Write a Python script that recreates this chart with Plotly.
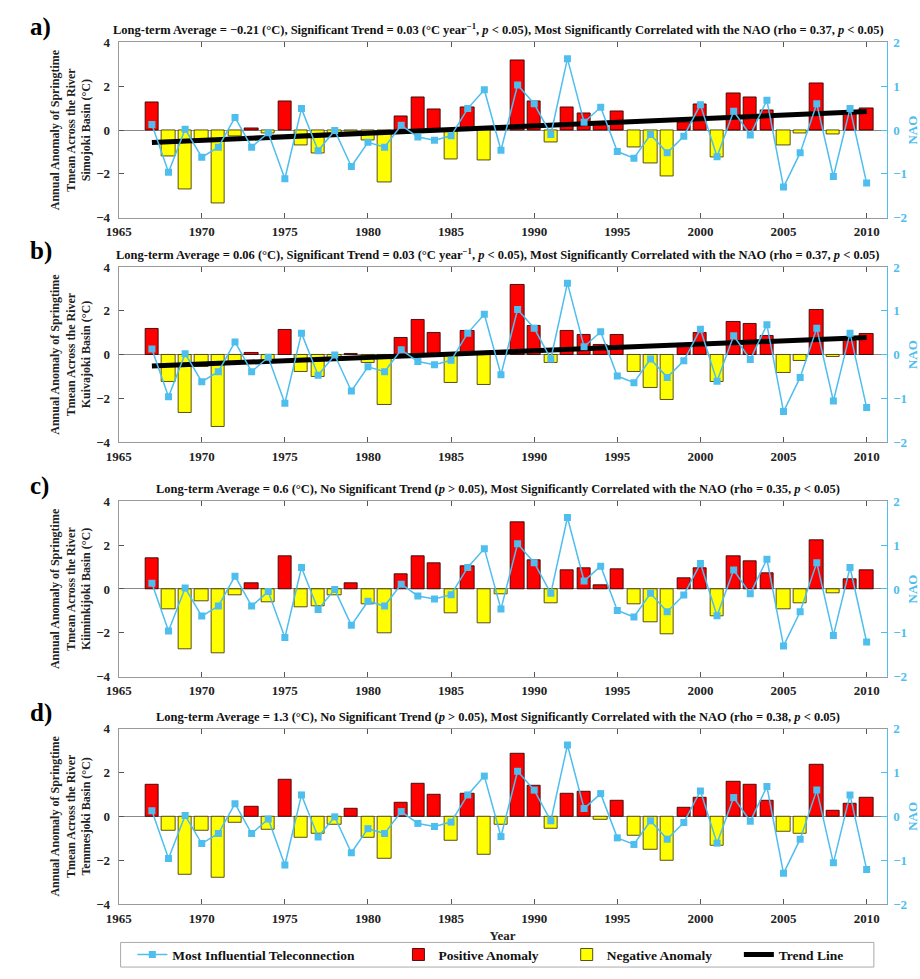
import plotly.graph_objects as go

years = list(range(1967, 2011))

nao = [0.13, -0.96, 0.02, -0.62, -0.39, 0.29, -0.39, -0.06, -1.11, 0.49,
       -0.47, -0.01, -0.83, -0.28, -0.39, 0.11, -0.16, -0.23, -0.13, 0.49,
       0.92, -0.46, 1.03, 0.60, -0.10, 1.63, 0.18, 0.52, -0.49, -0.64,
       -0.10, -0.52, -0.14, 0.58, -0.61, 0.43, -0.11, 0.68, -1.30, -0.52,
       0.60, -1.06, 0.49, -1.21]

anom_a = [1.24, -1.20, -2.70, -0.45, -3.34, -0.30, 0.08, -0.16, 1.29, -0.72,
          -1.08, -0.30, -0.07, -0.49, -2.40, 0.61, 1.47, 0.94, -1.32, 1.02,
          -1.38, 0.03, 3.19, 1.29, -0.55, 1.05, 0.78, 0.25, 0.87, -0.79,
          -1.54, -2.13, 0.37, 1.17, -1.24, 1.65, 1.47, 0.90, -0.72, -0.16,
          2.14, -0.19, 0.72, 0.99]

anom_b = [1.17, -1.26, -2.68, -0.55, -3.28, -0.43, 0.09, -0.28, 1.14, -0.81,
          -1.00, -0.25, 0.03, -0.37, -2.32, 0.75, 1.59, 1.00, -1.29, 1.09,
          -1.39, 0.02, 3.20, 1.33, -0.39, 1.08, 0.88, 0.42, 0.88, -0.78,
          -1.54, -2.07, 0.34, 1.00, -1.26, 1.48, 1.38, 0.84, -0.84, -0.30,
          2.02, -0.13, 0.61, 0.96]

anom_c = [1.39, -0.91, -2.74, -0.55, -2.92, -0.31, 0.27, -0.60, 1.51, -0.82,
          -0.81, -0.27, 0.25, -0.70, -2.04, 0.69, 1.48, 1.17, -1.12, 1.02,
          -1.57, -0.25, 3.06, 1.30, -0.66, 0.85, 0.94, 0.16, 0.90, -0.72,
          -1.53, -2.08, 0.49, 0.94, -1.23, 1.48, 1.26, 0.73, -0.93, -0.67,
          2.23, -0.18, 0.43, 0.85]

anom_d = [1.44, -0.67, -2.67, -0.64, -2.82, -0.31, 0.42, -0.63, 1.68, -0.97,
          -0.81, -0.39, 0.33, -0.97, -1.93, 0.63, 1.50, 0.97, -1.11, 1.05,
          -1.74, -0.40, 2.88, 1.42, -0.57, 1.03, 1.14, -0.15, 0.73, -0.87,
          -1.54, -2.02, 0.40, 0.87, -1.32, 1.56, 1.45, 0.73, -0.72, -0.81,
          2.34, 0.24, 0.58, 0.84]

trend_years = [1967, 2010]
trend_a = [-0.57, 0.85]
trend_b = [-0.52, 0.78]

basins = ["Simojoki", "Kuivajoki", "Kiiminkijoki", "Temmesjoki"]
panel_labels = ["a)", "b)", "c)", "d)"]
titles = [
    "Long-term Average = \u22120.21 (\u00b0C), Significant Trend = 0.03 (\u00b0C year<sup>\u22121</sup>, <i>p</i> < 0.05), Most Significantly Correlated with the NAO (rho = 0.37, <i>p</i> < 0.05)",
    "Long-term Average = 0.06 (\u00b0C), Significant Trend = 0.03 (\u00b0C year<sup>\u22121</sup>, <i>p</i> < 0.05), Most Significantly Correlated with the NAO (rho = 0.37, <i>p</i> < 0.05)",
    "Long-term Average = 0.6 (\u00b0C), No Significant Trend (<i>p</i> > 0.05), Most Significantly Correlated with the NAO (rho = 0.35, <i>p</i> < 0.05)",
    "Long-term Average = 1.3 (\u00b0C), No Significant Trend (<i>p</i> > 0.05), Most Significantly Correlated with the NAO (rho = 0.38, <i>p</i> < 0.05)",
]
anoms = [anom_a, anom_b, anom_c, anom_d]
trends = [trend_a, trend_b, None, None]

W, H = 920, 979
FONT = "Liberation Serif"
NAO_COL = "#4DBEEE"
panel_px = [(36, 214), (264, 442), (502, 680), (733, 911)]
x_px = (108, 893)

fig = go.Figure()
layout = {}
annotations = []

for i in range(4):
    xa = "x" if i == 0 else f"x{i+1}"
    yl = f"y{2*i+1}" if i > 0 else "y"
    yr = f"y{2*i+2}"
    vals = anoms[i]
    pos = [v if v > 0 else None for v in vals]
    neg = [v if v < 0 else None for v in vals]
    first = i == 0
    fig.add_trace(go.Bar(x=years, y=pos, xaxis=xa, yaxis=yl, width=0.8,
                         marker=dict(color="#FF0000", line=dict(color="rgba(40,0,0,0.85)", width=1)),
                         name="Positive Anomaly", legendgroup="pos", showlegend=first,
                         legend="legend2"))
    fig.add_trace(go.Bar(x=years, y=neg, xaxis=xa, yaxis=yl, width=0.8,
                         marker=dict(color="#FFFF00", line=dict(color="rgba(60,50,0,0.85)", width=1)),
                         name="Negative Anomaly", legendgroup="neg", showlegend=first,
                         legend="legend3"))
    if trends[i] is not None:
        fig.add_trace(go.Scatter(x=trend_years, y=trends[i], xaxis=xa, yaxis=yl, mode="lines",
                                 line=dict(color="black", width=5), name="Trend Line",
                                 legendgroup="trend", showlegend=first, legend="legend4"))
    fig.add_trace(go.Scatter(x=years, y=nao, xaxis=xa, yaxis=yr, mode="lines+markers",
                             line=dict(color=NAO_COL, width=1.5),
                             marker=dict(symbol="square", size=7, color=NAO_COL),
                             name="Most Influential Teleconnection", legendgroup="nao",
                             showlegend=first, legend="legend"))

    top, bot = panel_px[i]
    ydom = [1 - bot / H, 1 - top / H]
    xdom = [x_px[0] / W, x_px[1] / W]
    xkey = "xaxis" if i == 0 else f"xaxis{i+1}"
    ylkey = "yaxis" if i == 0 else f"yaxis{2*i+1}"
    yrkey = f"yaxis{2*i+2}"
    layout[xkey] = dict(domain=xdom, anchor=yl, range=[1965, 2011.2], dtick=5, tick0=1965,
                        showgrid=False, zeroline=False, showline=True, linecolor="#9a9a9a",
                        mirror="ticks", ticks="inside", ticklen=5, tickcolor="#555",
                        ticklabelstandoff=2,
                        tickfont=dict(family=FONT, size=13, color="#222", weight="bold"))
    if i == 3:
        layout[xkey]["title"] = dict(text="<b>Year</b>", font=dict(family=FONT, size=13, color="#222"),
                                     standoff=6)
    layout[ylkey] = dict(domain=ydom, anchor=xa, range=[-4, 4], dtick=2, showgrid=False,
                         zeroline=True, zerolinecolor="#8a8a8a", zerolinewidth=1,
                         showline=True, linecolor="#9a9a9a", ticks="inside", ticklen=5,
                         tickcolor="#555", ticklabelstandoff=5,
                         tickfont=dict(family=FONT, size=13, color="#222", weight="bold"),
                         title=dict(text=f"<b>Annual Anomaly of Springtime<br>Tmean Across the River<br>{basins[i]} Basin (\u00b0C)</b>",
                                    font=dict(family=FONT, size=12, color="#222"), standoff=2))
    layout[yrkey] = dict(domain=ydom, anchor=xa, overlaying=yl, side="right", range=[-2, 2],
                         dtick=1, showgrid=False, zeroline=False, showline=True,
                         linecolor=NAO_COL, ticks="inside", ticklen=6, tickcolor=NAO_COL,
                         ticklabelstandoff=3,
                         tickfont=dict(family=FONT, size=13, color=NAO_COL, weight="bold"),
                         title=dict(text="<b>NAO</b>", font=dict(family=FONT, size=13, color=NAO_COL),
                                    standoff=4))
    annotations.append(dict(text=f"<b>{titles[i]}</b>", xref="paper", yref="paper",
                            x=496 / W, y=ydom[1], xanchor="center", yanchor="bottom",
                            yshift=3, showarrow=False, font=dict(family=FONT, size=12.5, color="#111")))
    annotations.append(dict(text=f"<b>{panel_labels[i]}</b>", xref="paper", yref="paper",
                            x=15 / W, y=1 - (top - 16) / H, xanchor="left", yanchor="middle",
                            showarrow=False, font=dict(family=FONT, size=25, color="black")))

leg_common = dict(orientation="h", xanchor="left", y=1 - 962.5 / H, yanchor="middle",
                  bgcolor="rgba(0,0,0,0)", borderwidth=0,
                  font=dict(family=FONT, size=13.5, color="#111", weight="bold"))

fig.update_layout(**layout)
fig.update_layout(
    width=W, height=H, margin=dict(l=0, r=0, t=0, b=0),
    paper_bgcolor="white", plot_bgcolor="white",
    barmode="overlay", bargap=0,
    annotations=annotations,
    shapes=[dict(type="rect", xref="paper", yref="paper", x0=110 / W, x1=880 / W,
                 y0=1 - 975 / H, y1=1 - 950 / H, line=dict(color="#aaaaaa", width=1),
                 fillcolor="rgba(0,0,0,0)")],
    legend=dict(x=122 / W, **leg_common),
    legend2=dict(x=394 / W, **leg_common),
    legend3=dict(x=566 / W, **leg_common),
    legend4=dict(x=742 / W, **leg_common),
    font=dict(family=FONT),
)

fig.write_html("out.html")
